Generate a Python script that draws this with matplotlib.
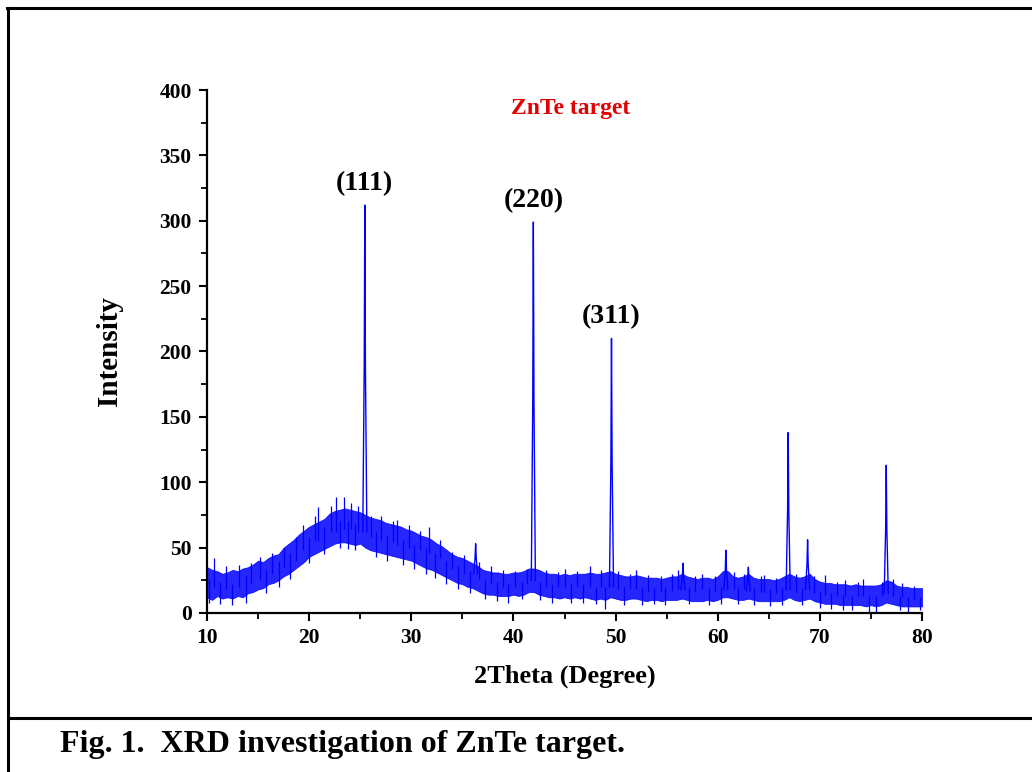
import matplotlib
matplotlib.use('Agg')
import matplotlib.pyplot as plt
from matplotlib.lines import Line2D
import numpy as np

plt.rcParams['font.family'] = ['Liberation Serif', 'DejaVu Serif']
plt.rcParams['font.weight'] = 'bold'

# diffuse background of the pattern, 0.5 deg steps (lower / upper edge of the noise band)
two_theta = np.arange(10.0, 80.01, 0.5)
band_low = [12, 10, 13, 11, 12, 11, 13, 12, 15, 16, 18, 19, 22, 23, 25, 28, 30, 33, 36, 39,
            43, 45, 47, 49, 51, 53, 54, 54, 53, 52, 53, 50, 48, 47, 46, 45, 44, 43, 42, 41,
            40, 38, 36, 34, 33, 31, 29, 27, 25, 23, 22, 20, 19, 17, 15, 14, 14, 13, 13, 13,
            14, 13, 14, 16, 16, 14, 13, 12, 12, 11, 12, 11, 12, 11, 12, 11, 10, 11, 10, 12,
            11, 10, 10, 11, 11, 10, 9, 10, 10, 9, 10, 10, 10, 11, 10, 9, 9, 9, 10, 9,
            10, 12, 12, 11, 10, 10, 11, 10, 9, 9, 9, 9, 9, 10, 12, 10, 9, 10, 11, 9,
            8, 7, 7, 7, 6, 6, 6, 6, 6, 5, 6, 5, 6, 8, 7, 6, 5, 5, 5, 5, 5]
band_high = [35, 33, 32, 30, 31, 33, 32, 34, 35, 37, 40, 39, 42, 44, 45, 50, 53, 56, 60, 63,
             66, 68, 70, 72, 76, 78, 79, 80, 79, 78, 77, 75, 73, 72, 71, 69, 68, 67, 66, 64,
             63, 61, 59, 58, 56, 53, 51, 48, 45, 43, 42, 40, 38, 36, 33, 32, 31, 31, 30, 30,
             31, 31, 32, 34, 34, 33, 31, 30, 30, 29, 30, 29, 30, 30, 30, 31, 30, 30, 31, 32,
             30, 29, 28, 28, 29, 28, 27, 27, 27, 26, 27, 28, 28, 30, 28, 27, 26, 27, 27, 26,
             28, 32, 32, 28, 27, 28, 30, 27, 26, 26, 26, 25, 26, 28, 30, 28, 27, 28, 30, 26,
             24, 23, 23, 22, 22, 22, 21, 22, 21, 21, 21, 21, 22, 25, 24, 21, 20, 20, 19, 19, 19]

# single noise spikes reaching out of the band (up or down)
spike_pos = [10.2, 10.7, 11.3, 11.9, 12.4, 13.1, 13.8, 14.3, 15.2, 15.8, 16.4, 17.0, 17.5,
             18.1, 18.7, 19.4, 20.0, 20.6, 20.9, 21.5, 22.1, 22.6, 23.0, 23.4, 23.8, 24.1,
             24.5, 24.8, 26.1, 26.5, 27.0, 27.6, 28.2, 28.6, 29.2, 29.8, 30.3, 30.9, 31.4,
             31.7, 32.3, 32.8, 33.4, 34.0, 34.6, 35.2, 35.7, 36.6, 37.2, 37.8, 38.4, 39.0,
             39.5, 40.2, 40.8, 41.3, 42.6, 43.2, 43.8, 44.4, 45.0, 45.6, 46.2, 46.8, 47.5,
             48.1, 48.6, 49.0, 50.2, 50.8, 51.4, 52.0, 52.6, 53.2, 53.8, 54.4, 54.8, 55.5,
             56.1, 57.2, 57.8, 58.5, 59.1, 59.7, 60.3, 61.6, 62.0, 62.6, 63.6, 64.2, 64.5,
             65.1, 65.7, 66.3, 67.7, 68.3, 69.4, 70.0, 70.5, 71.1, 71.7, 72.3, 72.5, 73.1,
             73.7, 74.2, 74.8, 75.5, 76.1, 77.2, 77.8, 78.0, 78.6, 79.2, 79.8]
spike_lo = [8, 20, 7, 18, 6, 20, 8, 22, 25, 15, 30, 20, 35,
            26, 40, 48, 38, 55, 55, 45, 62, 62, 50, 64, 49, 64,
            48, 62, 58, 43, 56, 40, 54, 52, 37, 50, 34, 48, 30,
            46, 27, 42, 22, 34, 18, 30, 15, 26, 11, 22, 9, 20,
            8, 20, 11, 22, 10, 20, 8, 20, 20, 8, 20, 8, 20,
            7, 20, 3, 18, 6, 18, 18, 6, 16, 7, 16, 6, 17,
            18, 7, 16, 18, 6, 16, 7, 18, 7, 18, 6, 16, 16,
            5, 15, 6, 16, 6, 15, 4, 14, 3, 13, 2, 13, 2,
            13, 13, 1, 0, 13, 13, 2, 12, 1, 11, 2]
spike_hi = [26, 42, 24, 36, 22, 37, 28, 38, 43, 34, 46, 40, 50,
            46, 58, 67, 58, 74, 81, 66, 82, 89, 70, 89, 70, 84,
            68, 82, 74, 62, 74, 60, 70, 71, 56, 67, 52, 63, 50,
            66, 46, 56, 40, 47, 36, 44, 32, 39, 26, 36, 24, 33,
            22, 32, 24, 34, 24, 33, 22, 31, 34, 22, 32, 22, 36,
            20, 33, 20, 32, 20, 30, 33, 20, 29, 19, 28, 20, 30,
            33, 20, 28, 30, 19, 28, 20, 31, 20, 30, 19, 28, 29,
            18, 27, 19, 30, 19, 28, 16, 29, 15, 24, 14, 25, 13,
            24, 26, 13, 13, 24, 26, 13, 23, 12, 21, 12]

# Bragg reflections
peak_pos = [25.45, 36.3, 41.95, 49.6, 56.6, 60.8, 63.0, 66.9, 68.8, 76.5]
peak_height = [312, 53, 299, 210, 38, 48, 35, 138, 56, 113]
peak_base = [62, 30, 25, 20, 18, 18, 17, 18, 18, 15]
hkl_pos = [25.45, 41.95, 49.6]
hkl_height = [312, 299, 210]
hkl_text = ['(111)', '(220)', '(311)']

fig = plt.figure(figsize=(10.32, 7.72), dpi=100)
ax = fig.add_axes([0.2006, 0.2060, 0.6928, 0.6774])

blue = '#0000ff'
ax.fill_between(two_theta, band_low, band_high, color=blue, alpha=0.85, lw=0.6)
ax.vlines(spike_pos, spike_lo, spike_hi, color=blue, lw=0.9)
for c, h, b in zip(peak_pos, peak_height, peak_base):
    ax.plot([c - 0.2, c - 0.06, c, c + 0.06, c + 0.2], [b, (b + h) / 2, h, (b + h) / 2, b],
            color=blue, lw=1.0)

for c, h, t in zip(hkl_pos, hkl_height, hkl_text):
    ax.text(c, h + 7, t, ha='center', va='bottom', fontsize=20, fontweight='bold')
ax.text(0.509, 0.965, 'ZnTe target', transform=ax.transAxes, ha='center', va='center',
        color='#e00000', fontsize=17, fontweight='bold')

ax.set_xlim(10, 80)
ax.set_ylim(0, 400)
ax.set_xticks(range(10, 81, 10))
ax.set_xticks(range(15, 80, 10), minor=True)
ax.set_yticks(range(0, 401, 50))
ax.set_yticks(range(25, 400, 50), minor=True)
for s in ['top', 'right']:
    ax.spines[s].set_visible(False)
for s in ['left', 'bottom']:
    ax.spines[s].set_linewidth(1.6)
ax.tick_params(which='major', direction='out', length=6, width=1.5, labelsize=15.5, pad=5)
ax.tick_params(which='minor', direction='out', length=4, width=1.3)
for lab in ax.get_xticklabels() + ax.get_yticklabels():
    lab.set_fontweight('bold')
ax.set_xlabel('2Theta (Degree)', fontsize=19, fontweight='bold', labelpad=12)
ax.set_ylabel('Intensity', fontsize=21, fontweight='bold', labelpad=26)

# page frame and caption
fig.add_artist(Line2D([0.0068, 1.0], [0.9896, 0.9896], color='black', lw=2.2))
fig.add_artist(Line2D([0.0078, 0.0078], [0.0, 0.9896], color='black', lw=2.2))
fig.add_artist(Line2D([0.0078, 1.0], [0.0700, 0.0700], color='black', lw=2.2))
fig.text(0.058, 0.035, 'Fig. 1.  XRD investigation of ZnTe target.', ha='left', va='center',
         fontsize=23, fontweight='bold')

fig.savefig('out.png', dpi=100)
